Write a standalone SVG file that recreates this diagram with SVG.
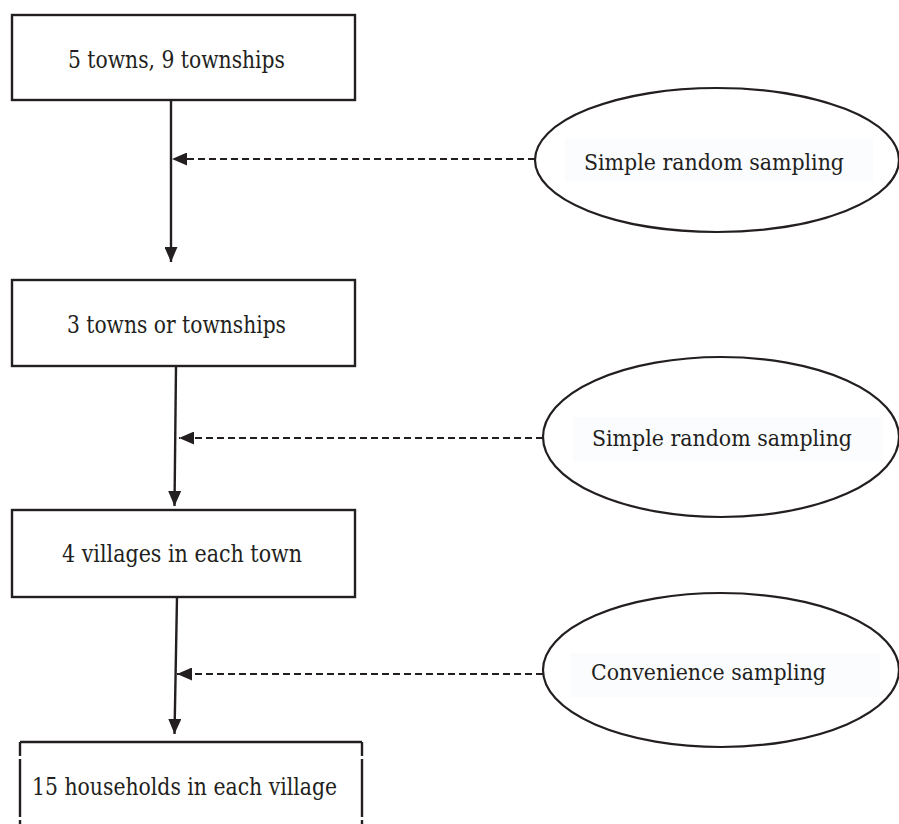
<svg xmlns="http://www.w3.org/2000/svg" width="899" height="824" viewBox="0 0 899 824">
  <style>
    .box { fill: #ffffff; stroke: #231f20; stroke-width: 2.4; }
    .ell { fill: #ffffff; stroke: #231f20; stroke-width: 2.2; }
    text { font-family: 'DejaVu Serif', 'Liberation Serif', serif; font-size: 25px; fill: #231f20; }
    text.e { font-size: 23px; }
    .bg { fill: #fbfcfe; }
    .solid { stroke: #231f20; stroke-width: 2.4; fill: none; }
    .dash { stroke: #231f20; stroke-width: 2.2; fill: none; stroke-dasharray: 7 4; }
  </style>
  <defs>
    <marker id="ah" markerWidth="15" markerHeight="13" refX="15" refY="6.5" orient="auto" markerUnits="userSpaceOnUse">
      <path d="M0,0 L15,6.5 L0,13 Z" fill="#231f20"/>
    </marker>
  </defs>
  <rect width="899" height="824" fill="#ffffff"/>

  <g id="box1">
    <rect class="box" x="12" y="15" width="343" height="85"/>
    <text x="68" y="68" textLength="217" lengthAdjust="spacingAndGlyphs">5 towns, 9 townships</text>
  </g>
  <g id="box2">
    <rect class="box" x="12" y="280" width="343" height="86"/>
    <text x="67" y="333" textLength="219" lengthAdjust="spacingAndGlyphs">3 towns or townships</text>
  </g>
  <g id="box3">
    <rect class="box" x="12" y="510" width="343" height="87"/>
    <text x="62" y="562" textLength="240" lengthAdjust="spacingAndGlyphs">4 villages in each town</text>
  </g>
  <g id="box4">
    <path class="solid" d="M20,742 H362 M20,742 V756 M20,759 V817 M20,820 V824 M362,742 V756 M362,759 V817 M362,820 V824"/>
    <text x="32" y="795" textLength="305" lengthAdjust="spacingAndGlyphs">15 households in each village</text>
  </g>

  <g id="ellipse1">
    <ellipse class="ell" cx="717" cy="160" rx="182" ry="72"/>
    <rect class="bg" x="565" y="138" width="308" height="44"/>
    <text class="e" x="584" y="170" textLength="260" lengthAdjust="spacingAndGlyphs">Simple random sampling</text>
  </g>
  <g id="ellipse2">
    <ellipse class="ell" cx="721" cy="437" rx="178" ry="80"/>
    <rect class="bg" x="573" y="417" width="310" height="45"/>
    <text class="e" x="592" y="446" textLength="260" lengthAdjust="spacingAndGlyphs">Simple random sampling</text>
  </g>
  <g id="ellipse3">
    <ellipse class="ell" cx="721" cy="670" rx="178" ry="77"/>
    <rect class="bg" x="570" y="653" width="310" height="44"/>
    <text class="e" x="591" y="680" textLength="235" lengthAdjust="spacingAndGlyphs">Convenience sampling</text>
  </g>

  <g id="connectors">
    <line class="solid" x1="171" y1="100" x2="171" y2="262" marker-end="url(#ah)"/>
    <line class="dash" x1="535" y1="159" x2="172" y2="159" marker-end="url(#ah)"/>
    <line class="solid" x1="176" y1="366" x2="174.5" y2="506" marker-end="url(#ah)"/>
    <line class="dash" x1="543" y1="438" x2="179" y2="438" marker-end="url(#ah)"/>
    <line class="solid" x1="177" y1="597" x2="174.5" y2="734" marker-end="url(#ah)"/>
    <line class="dash" x1="543" y1="674" x2="177" y2="674" marker-end="url(#ah)"/>
  </g>
</svg>
